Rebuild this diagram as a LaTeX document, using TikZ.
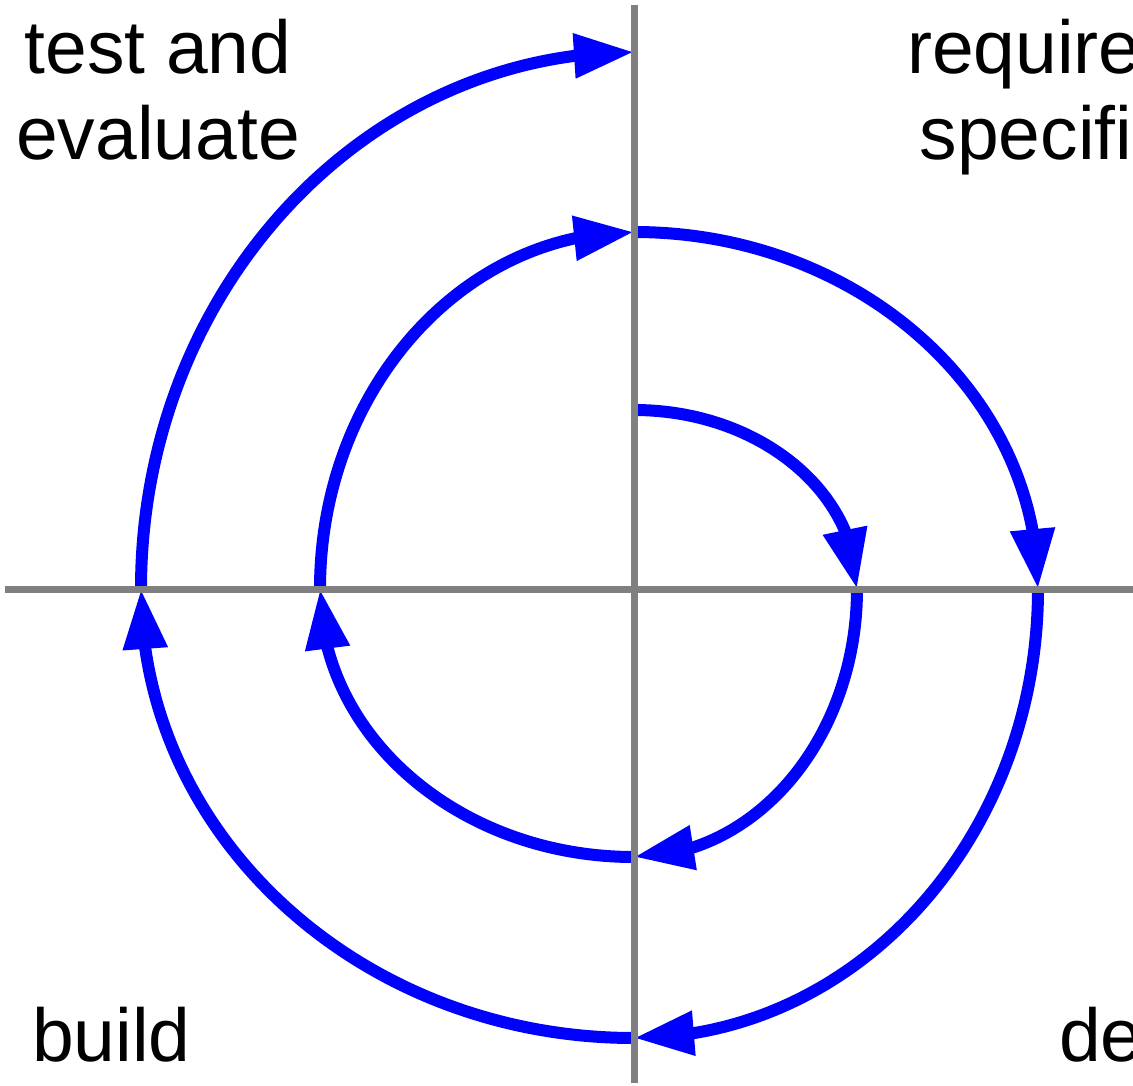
\documentclass[tikz,border=0pt]{standalone}
\usepackage{fontspec}
\setmainfont{Liberation Sans}
\usetikzlibrary{arrows.meta,bending}
\definecolor{axisgray}{RGB}{128,128,128}
\definecolor{spiralblue}{RGB}{0,0,255}
\begin{document}
\begin{tikzpicture}[x=1pt,y=-1pt,
  spiral/.style={draw=spiralblue, line width=12pt, -{Triangle[length=60pt,width=42pt]}},
  axisline/.style={draw=axisgray, line width=7pt},
  lbl/.style={font=\fontsize{75}{86}\selectfont, inner sep=0pt, align=center}]
\clip (0,0) rectangle (1133,1086);
% spiral points
\coordinate (p0) at (634,410);
\coordinate (p1) at (857,589);
\coordinate (p2) at (634,857);
\coordinate (p3) at (320,589);
\coordinate (p4) at (634,232);
\coordinate (p5) at (1038,589);
\coordinate (p6) at (634,1038);
\coordinate (p7) at (141,589);
\coordinate (p8) at (634,52);
\draw[spiral] (p0) arc[start angle=270, end angle=360, x radius=223, y radius=179];
\draw[spiral] (p1) arc[start angle=0, end angle=90, x radius=223, y radius=268];
\draw[spiral] (p2) arc[start angle=90, end angle=180, x radius=314, y radius=268];
\draw[spiral] (p3) arc[start angle=180, end angle=270, x radius=314, y radius=357];
\draw[spiral] (p4) arc[start angle=270, end angle=360, x radius=404, y radius=357];
\draw[spiral] (p5) arc[start angle=0, end angle=90, x radius=404, y radius=449];
\draw[spiral] (p6) arc[start angle=90, end angle=180, x radius=493, y radius=449];
\draw[spiral] (p7) arc[start angle=180, end angle=270, x radius=493, y radius=537];
% axes
\coordinate (hl) at (5,589);
\coordinate (hr) at (1133,589);
\coordinate (vt) at (634,5);
\coordinate (vb) at (634,1083);
\draw[axisline] (hl) -- (hr);
\draw[axisline] (vt) -- (vb);
% labels
\node[lbl, anchor=base] (test) at (158,160) {test and\\evaluate};
\node[lbl, anchor=base] (req) at (1126,160) {requirements\\specification};
\node[lbl, anchor=base west] (build) at (32,1061) {build};
\node[lbl, anchor=base west] (design) at (1059,1061) {design};
\end{tikzpicture}
\end{document}
